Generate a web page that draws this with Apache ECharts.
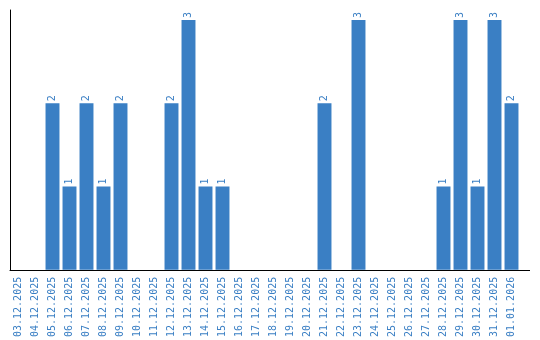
<!DOCTYPE html>
<html><head><meta charset="utf-8">
<script src="https://cdn.jsdelivr.net/npm/echarts@6/dist/echarts.min.js"></script>
<style>html,body{margin:0;padding:0;background:#fff}#c{width:540px;height:340px}</style>
</head><body><div id="c"></div>
<script>
const categories = ["03.12.2025","04.12.2025","05.12.2025","06.12.2025","07.12.2025","08.12.2025","09.12.2025","10.12.2025","11.12.2025","12.12.2025","13.12.2025","14.12.2025","15.12.2025","16.12.2025","17.12.2025","18.12.2025","19.12.2025","20.12.2025","21.12.2025","22.12.2025","23.12.2025","24.12.2025","25.12.2025","26.12.2025","27.12.2025","28.12.2025","29.12.2025","30.12.2025","31.12.2025","01.01.2026"];
const counts = [0,0,2,1,2,1,2,0,0,2,3,1,1,0,0,0,0,0,2,0,3,0,0,0,0,1,3,1,3,2];
const blue = '#3a7fc4';
const chart = echarts.init(document.getElementById('c'), null, {renderer:'canvas'});
chart.setOption({
  animation:false,
  grid:{left:10,right:20,top:10,bottom:70,containLabel:false},
  graphic:[{type:'line',shape:{x1:520,y1:270.5,x2:530,y2:270.5},style:{stroke:'#000',lineWidth:1},silent:true}],
  xAxis:{type:'category',data:categories,
    axisLine:{show:true,lineStyle:{color:'#000',width:1}},
    axisTick:{show:false},
    axisLabel:{rotate:90,interval:0,color:blue,fontFamily:'DejaVu Sans Mono',fontSize:10,margin:7}},
  yAxis:{type:'value',min:0,max:3.12,splitLine:{show:false},axisLabel:{show:false},axisTick:{show:false},
    axisLine:{show:true,lineStyle:{color:'#000',width:1}}},
  series:[{type:'bar',data:counts.map(v=>v===0?null:v),barCategoryGap:'18%',
    itemStyle:{color:blue},
    label:{show:true,position:'top',rotate:90,align:'left',verticalAlign:'middle',distance:2,
      color:blue,fontFamily:'DejaVu Sans Mono',fontSize:10}}]
});
</script></body></html>
